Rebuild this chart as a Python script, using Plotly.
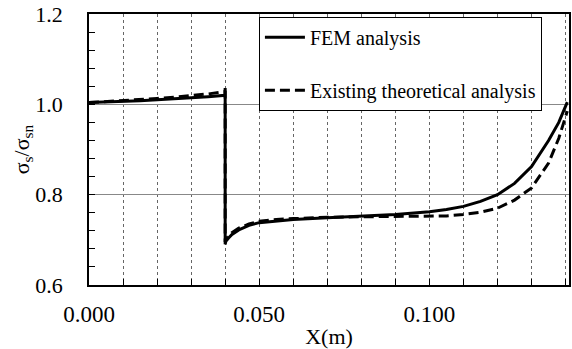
import plotly.graph_objects as go

# Data
x_vals = [0.0, 0.005, 0.01, 0.015, 0.02, 0.025, 0.03, 0.035, 0.0399, 0.04, 0.04,
          0.0402, 0.041, 0.042, 0.044, 0.047, 0.05, 0.055, 0.06, 0.07, 0.08,
          0.09, 0.1, 0.105, 0.11, 0.115, 0.12, 0.125, 0.13, 0.135, 0.138, 0.1405]
fem_vals = [1.004, 1.005, 1.006, 1.008, 1.010, 1.012, 1.014, 1.017, 1.020, 1.036, 0.690,
            0.697, 0.704, 0.712, 0.722, 0.732, 0.738, 0.742, 0.745, 0.749, 0.752,
            0.756, 0.762, 0.767, 0.774, 0.785, 0.800, 0.825, 0.862, 0.920, 0.960, 1.005]
theory_vals = [1.004, 1.006, 1.008, 1.010, 1.013, 1.016, 1.019, 1.023, 1.028, 1.030, 0.695,
               0.702, 0.708, 0.716, 0.726, 0.735, 0.741, 0.745, 0.747, 0.750, 0.751,
               0.752, 0.752, 0.753, 0.756, 0.761, 0.770, 0.788, 0.815, 0.870, 0.925, 0.985]
series_names = ["FEM analysis", "Existing theoretical analysis"]
x_ticks = [0.0, 0.05, 0.1]
x_tick_text = ["0.000", "0.050", "0.100"]
y_ticks = [0.6, 0.8, 1.0, 1.2]
y_tick_text = ["0.6", "0.8", "1.0", "1.2"]

FONT = "Liberation Serif, DejaVu Serif, serif"

fig = go.Figure()
fig.add_trace(go.Scatter(x=x_vals, y=fem_vals, mode="lines", name=series_names[0],
                         legendgroup="a",
                         line=dict(color="black", width=3, dash="solid")))
fig.add_trace(go.Scatter(x=x_vals, y=theory_vals, mode="lines", name=series_names[1],
                         legendgroup="b",
                         line=dict(color="black", width=3, dash="10px,5px")))

fig.update_layout(
    width=572, height=349,
    margin=dict(l=89, r=3, t=14, b=64),
    paper_bgcolor="white", plot_bgcolor="white",
    font=dict(family=FONT, color="black"),
    showlegend=True,
    legend=dict(x=0.354, y=0.99, xanchor="left", yanchor="top",
                bgcolor="white", bordercolor="black", borderwidth=1,
                font=dict(family=FONT, size=20, color="black"),
                tracegroupgap=24, itemwidth=40),
    xaxis=dict(range=[0, 0.141], tickvals=x_ticks, ticktext=x_tick_text,
               automargin=False, ticklabeloverflow="allow",
               ticks="inside", ticklen=6, tickcolor="black",
               showline=True, linecolor="black", linewidth=1.5, mirror=True,
               showgrid=True, gridcolor="#666", griddash="dot", gridwidth=1,
               minor=dict(dtick=0.01, tick0=0, ticks="inside", ticklen=6, tickcolor="black",
                          showgrid=True, gridcolor="#666", griddash="dot", gridwidth=1),
               tickfont=dict(family=FONT, size=23, color="black"),
               ticklabelstandoff=8,
               zeroline=False,
               title=dict(text="X(m)", font=dict(family=FONT, size=22, color="black"), standoff=3)),
    yaxis=dict(range=[0.6, 1.2], tickvals=y_ticks, ticktext=y_tick_text,
               automargin=False, ticklabeloverflow="allow",
               ticks="inside", ticklen=6, tickcolor="black",
               showline=True, linecolor="black", linewidth=1.5, mirror=True,
               showgrid=True, gridcolor="#888", gridwidth=1,
               minor=dict(dtick=0.04, tick0=0.6, ticks="inside", ticklen=6, tickcolor="black",
                          showgrid=False),
               tickfont=dict(family=FONT, size=22, color="black"),
               ticklabelstandoff=20,
               zeroline=False,
               title=dict(text="σ<sub>s</sub>/σ<sub>sn</sub>",
                          font=dict(family=FONT, size=22, color="black"), standoff=0)),
)

# remove the default 8px page margin so the figure fills the window exactly
fig.write_html("out.html", config={"displayModeBar": False},
               post_script="document.body.style.margin='0';")
